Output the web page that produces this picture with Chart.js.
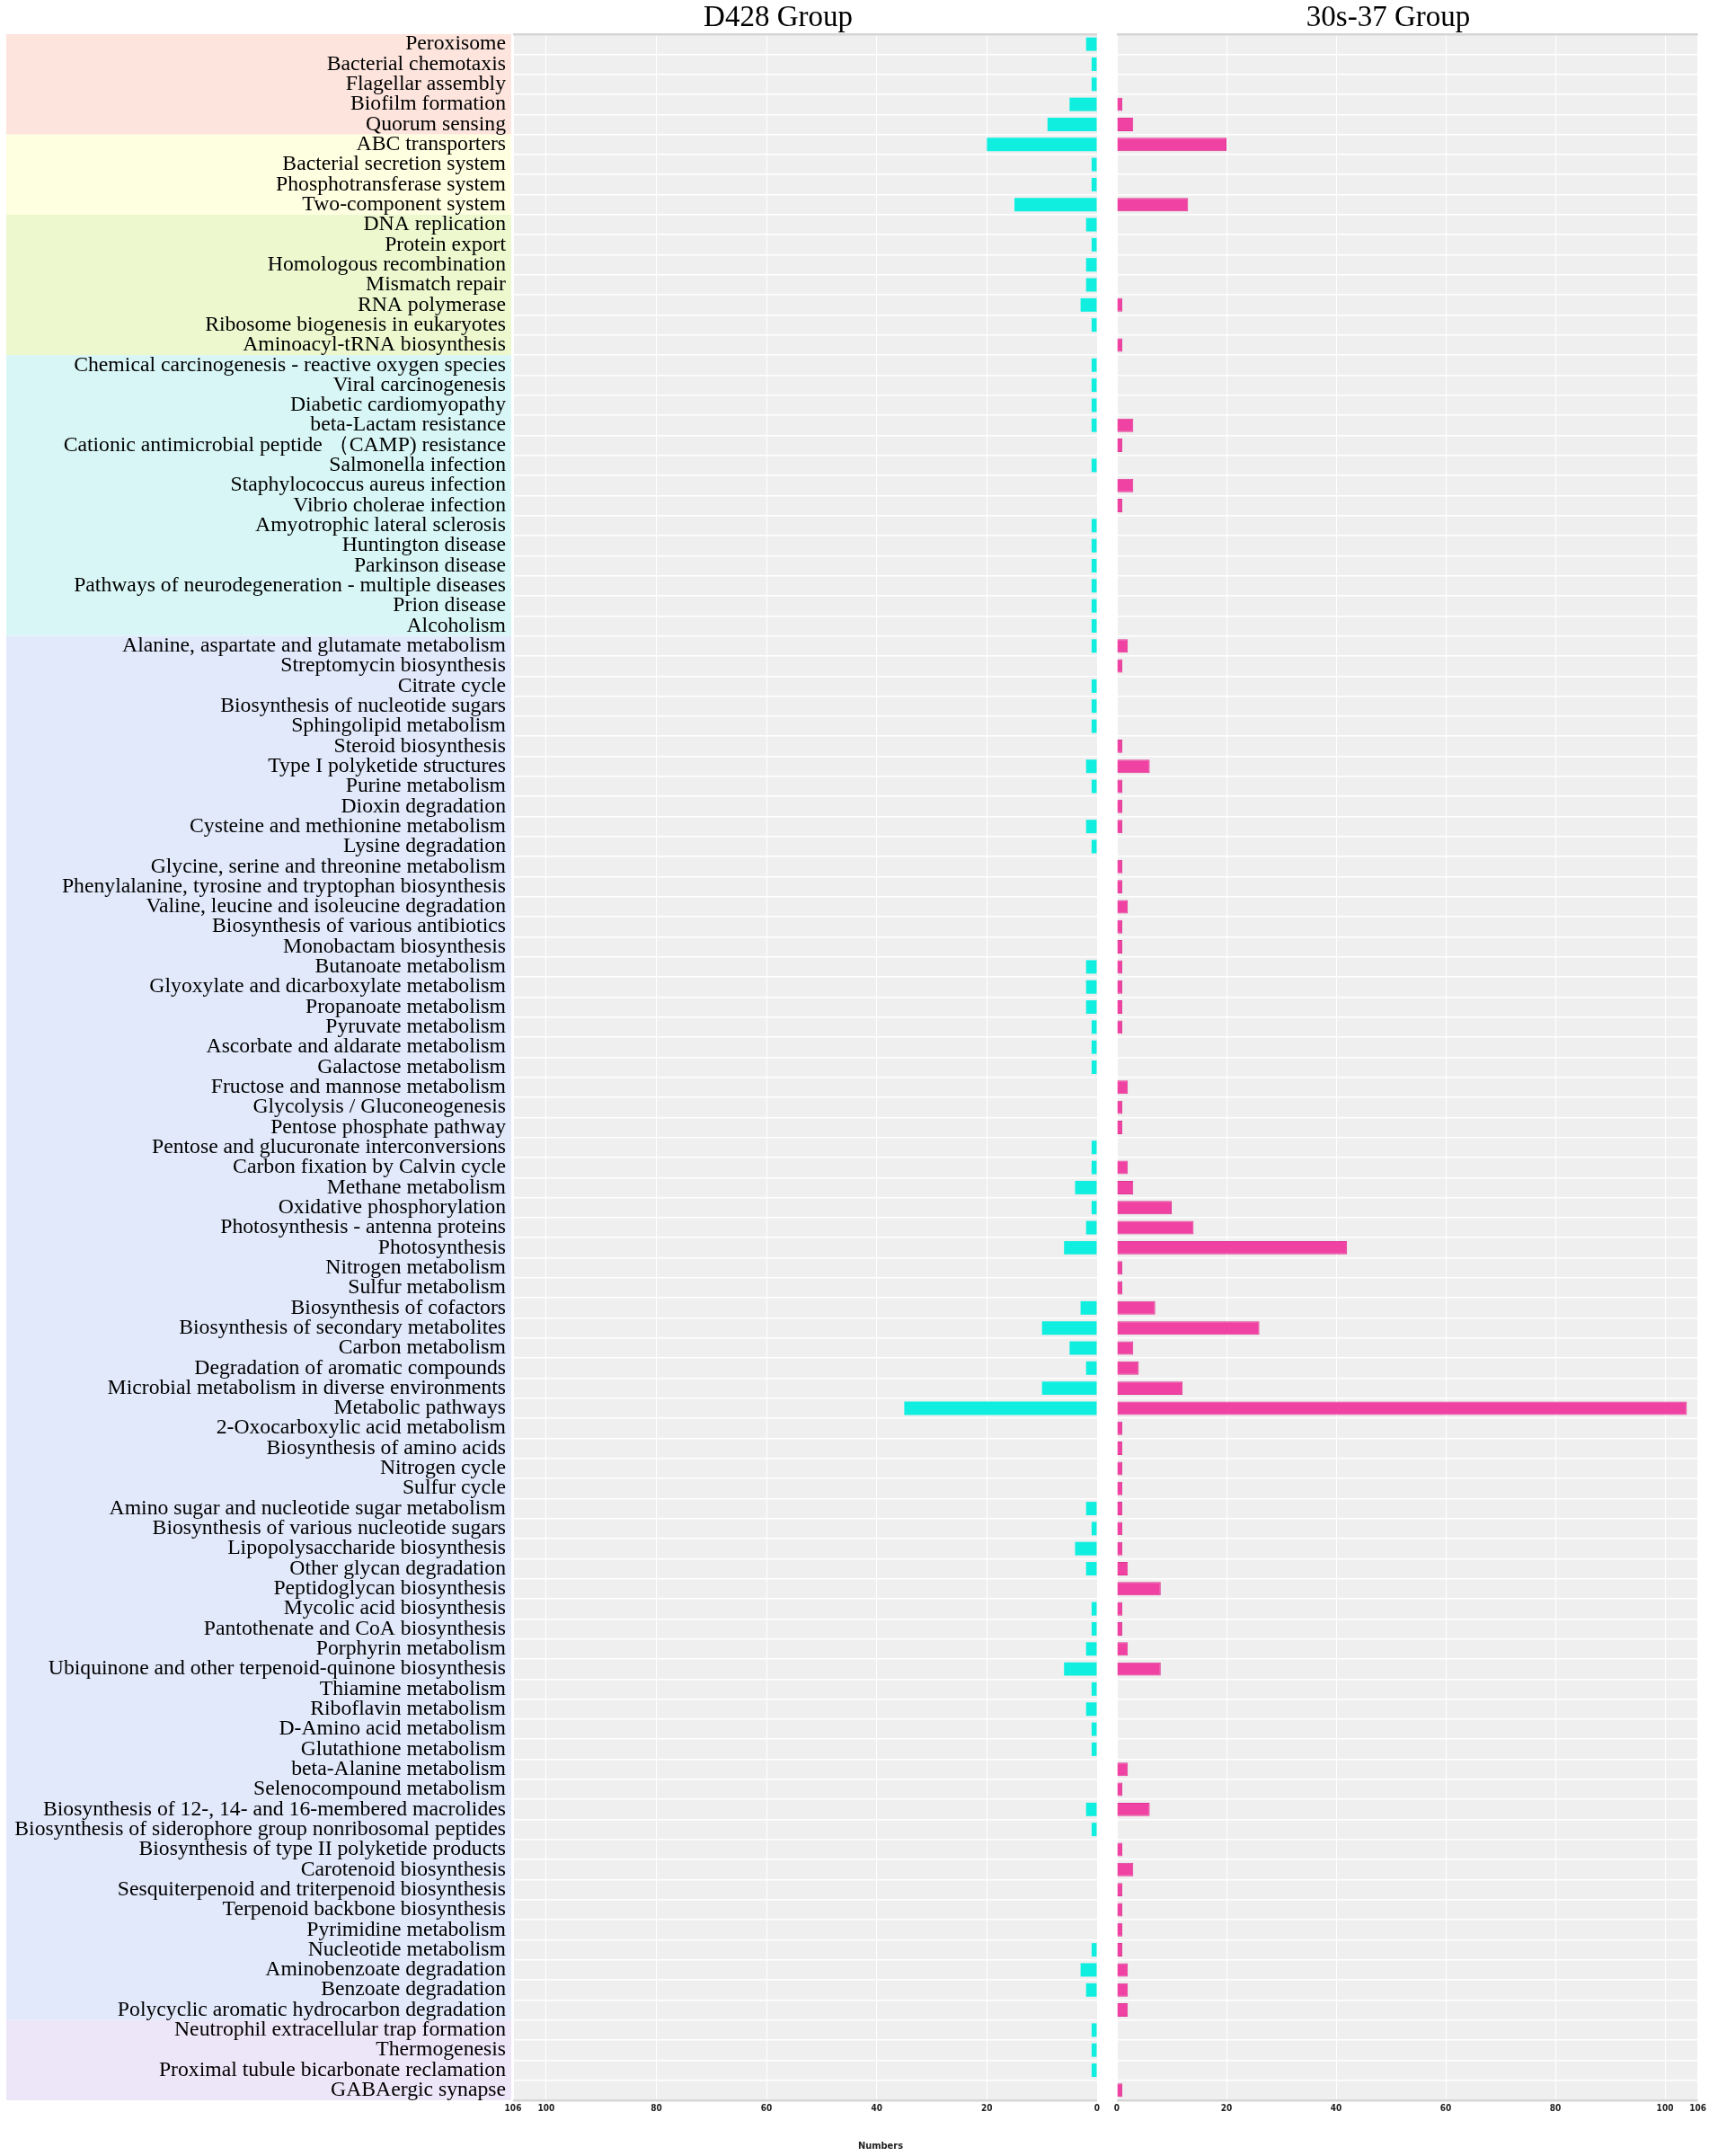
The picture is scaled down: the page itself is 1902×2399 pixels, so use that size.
<!DOCTYPE html>
<html>
<head>
<meta charset="utf-8">
<title>KEGG pathways</title>
<script src="https://cdn.jsdelivr.net/npm/chart.js@4.4.1/dist/chart.umd.min.js"></script>
<style>
  html, body { margin: 0; padding: 0; background: #fff; overflow: hidden; }
  #wrap { position: relative; width: 1902px; height: 2399px; }
  #leftChart { position: absolute; left: 0; top: 0; }
  #rightChart { position: absolute; left: 1188px; top: 0; z-index: 2; }
  #xTitle {
    position: absolute; top: 2381px; left: 880px; width: 200px; line-height: 14px;
    text-align: center; color: #222;
    font: bold 11px 'Liberation Sans Narrow', 'DejaVu Sans Condensed', 'Liberation Sans', sans-serif;
  }
</style>
</head>
<body>
<div id="wrap">
  <canvas id="leftChart" width="1732" height="2399"></canvas>
  <canvas id="rightChart" width="714" height="2399"></canvas>
  <div id="xTitle">Numbers</div>
</div>
<script>
// pathway names, top to bottom
const pathways = [
  'Peroxisome', 'Bacterial chemotaxis', 'Flagellar assembly', 'Biofilm formation', 'Quorum sensing',
  'ABC transporters', 'Bacterial secretion system', 'Phosphotransferase system', 'Two-component system',
  'DNA replication', 'Protein export', 'Homologous recombination', 'Mismatch repair', 'RNA polymerase',
  'Ribosome biogenesis in eukaryotes', 'Aminoacyl-tRNA biosynthesis',
  'Chemical carcinogenesis - reactive oxygen species', 'Viral carcinogenesis', 'Diabetic cardiomyopathy',
  'beta-Lactam resistance', 'Cationic antimicrobial peptide （CAMP) resistance', 'Salmonella infection',
  'Staphylococcus aureus infection', 'Vibrio cholerae infection', 'Amyotrophic lateral sclerosis',
  'Huntington disease', 'Parkinson disease', 'Pathways of neurodegeneration - multiple diseases',
  'Prion disease', 'Alcoholism',
  'Alanine, aspartate and glutamate metabolism', 'Streptomycin biosynthesis', 'Citrate cycle',
  'Biosynthesis of nucleotide sugars', 'Sphingolipid metabolism', 'Steroid biosynthesis',
  'Type I polyketide structures', 'Purine metabolism', 'Dioxin degradation',
  'Cysteine and methionine metabolism', 'Lysine degradation', 'Glycine, serine and threonine metabolism',
  'Phenylalanine, tyrosine and tryptophan biosynthesis', 'Valine, leucine and isoleucine degradation',
  'Biosynthesis of various antibiotics', 'Monobactam biosynthesis', 'Butanoate metabolism',
  'Glyoxylate and dicarboxylate metabolism', 'Propanoate metabolism', 'Pyruvate metabolism',
  'Ascorbate and aldarate metabolism', 'Galactose metabolism', 'Fructose and mannose metabolism',
  'Glycolysis / Gluconeogenesis', 'Pentose phosphate pathway', 'Pentose and glucuronate interconversions',
  'Carbon fixation by Calvin cycle', 'Methane metabolism', 'Oxidative phosphorylation',
  'Photosynthesis - antenna proteins', 'Photosynthesis', 'Nitrogen metabolism', 'Sulfur metabolism',
  'Biosynthesis of cofactors', 'Biosynthesis of secondary metabolites', 'Carbon metabolism',
  'Degradation of aromatic compounds', 'Microbial metabolism in diverse environments', 'Metabolic pathways',
  '2-Oxocarboxylic acid metabolism', 'Biosynthesis of amino acids', 'Nitrogen cycle', 'Sulfur cycle',
  'Amino sugar and nucleotide sugar metabolism', 'Biosynthesis of various nucleotide sugars',
  'Lipopolysaccharide biosynthesis', 'Other glycan degradation', 'Peptidoglycan biosynthesis',
  'Mycolic acid biosynthesis', 'Pantothenate and CoA biosynthesis', 'Porphyrin metabolism',
  'Ubiquinone and other terpenoid-quinone biosynthesis', 'Thiamine metabolism', 'Riboflavin metabolism',
  'D-Amino acid metabolism', 'Glutathione metabolism', 'beta-Alanine metabolism', 'Selenocompound metabolism',
  'Biosynthesis of 12-, 14- and 16-membered macrolides',
  'Biosynthesis of siderophore group nonribosomal peptides', 'Biosynthesis of type II polyketide products',
  'Carotenoid biosynthesis', 'Sesquiterpenoid and triterpenoid biosynthesis',
  'Terpenoid backbone biosynthesis', 'Pyrimidine metabolism', 'Nucleotide metabolism',
  'Aminobenzoate degradation', 'Benzoate degradation', 'Polycyclic aromatic hydrocarbon degradation',
  'Neutrophil extracellular trap formation', 'Thermogenesis', 'Proximal tubule bicarbonate reclamation',
  'GABAergic synapse'
];

// gene counts per pathway (0 = no bar)
const d428Counts = [
  2, 1, 1, 5, 9,
  20, 1, 1, 15,
  2, 1, 2, 2, 3, 1, 0,
  1, 1, 1, 1, 0, 1, 0, 0, 1, 1, 1, 1, 1, 1,
  1, 0, 1, 1, 1, 0, 2, 1, 0, 2,
  1, 0, 0, 0, 0, 0, 2, 2, 2, 1,
  1, 1, 0, 0, 0, 1, 1, 4, 1, 2,
  6, 0, 0, 3, 10, 5, 2, 10, 35, 0,
  0, 0, 0, 2, 1, 4, 2, 0, 1, 1,
  2, 6, 1, 2, 1, 1, 0, 0, 2, 1,
  0, 0, 0, 0, 0, 1, 3, 2, 0,
  1, 1, 1, 0
];
const s37Counts = [
  0, 0, 0, 1, 3,
  20, 0, 0, 13,
  0, 0, 0, 0, 1, 0, 1,
  0, 0, 0, 3, 1, 0, 3, 1, 0, 0, 0, 0, 0, 0,
  2, 1, 0, 0, 0, 1, 6, 1, 1, 1,
  0, 1, 1, 2, 1, 1, 1, 1, 1, 1,
  0, 0, 2, 1, 1, 0, 2, 3, 10, 14,
  42, 1, 1, 7, 26, 3, 4, 12, 104, 1,
  1, 1, 1, 1, 1, 1, 2, 8, 1, 1,
  2, 8, 0, 0, 0, 0, 2, 1, 6, 0,
  1, 3, 1, 1, 1, 1, 2, 2, 2,
  0, 0, 0, 1
];

// KEGG level-1 groups: number of rows in each, in order
const groupNames = ['Cellular Processes', 'Environmental Information Processing',
  'Genetic Information Processing', 'Human Diseases', 'Metabolism', 'Organismal Systems'];
const groupSizes = [5, 4, 7, 14, 69, 4];
const groupColors = ['#fde4dc', '#fefee0', '#eef8cf', '#d9f6f6', '#e1e9fb', '#ede6f8'];

const xTickValues = [0, 20, 40, 60, 80, 100, 106];
const xMax = 106;

const serif = "'Liberation Serif', 'Times New Roman', serif";
const tickFont = { family: "'Liberation Sans Narrow', 'DejaVu Sans Condensed', 'Liberation Sans', sans-serif", size: 10, weight: 'bold' };

// grey panel behind the bars
const panelBackground = {
  id: 'panelBackground',
  beforeDraw(chart) {
    const { ctx, chartArea: a } = chart;
    ctx.save();
    ctx.fillStyle = '#efefef';
    ctx.fillRect(a.left, a.top, a.right - a.left, a.bottom - a.top);
    ctx.restore();
  }
};

// coloured strips behind the pathway names
const groupBands = {
  id: 'groupBands',
  beforeDraw(chart) {
    const { ctx, chartArea } = chart;
    const y = chart.scales.y;
    const half = (y.getPixelForValue(1) - y.getPixelForValue(0)) / 2;
    let start = 0;
    ctx.save();
    groupSizes.forEach((n, i) => {
      const top = y.getPixelForValue(start) - half;
      const bottom = y.getPixelForValue(start + n - 1) + half;
      ctx.fillStyle = groupColors[i];
      ctx.fillRect(7, top, chartArea.left - 9, bottom - top);
      start += n;
    });
    ctx.restore();
  }
};

function isEdge(c) {
  return !(c.type === 'tick' && c.index > 0);
}

function yAxis(showLabels, width) {
  return {
    type: 'category',
    position: 'left',
    grid: {
      offset: true,
      drawTicks: false,
      color: c => isEdge(c) ? '#d6d6d6' : '#ffffff',
      lineWidth: c => isEdge(c) ? 2.5 : 1.5
    },
    border: { display: false },
    ticks: {
      display: showLabels,
      autoSkip: false,
      padding: 8,
      color: '#000',
      font: { family: serif, size: 23.7 }
    },
    afterFit: s => { s.width = width; }
  };
}

function spacer(width) {
  return {
    type: 'category',
    position: 'right',
    grid: { display: false },
    border: { display: false },
    ticks: { display: false },
    afterFit: s => { s.width = width; }
  };
}

function xAxis(reverse) {
  return {
    type: 'linear',
    reverse: reverse,
    min: 0,
    max: xMax,
    afterBuildTicks: s => { s.ticks = xTickValues.map(v => ({ value: v })); },
    grid: { color: '#ffffff', lineWidth: 1, drawTicks: false },
    border: { display: false },
    ticks: { padding: 3, maxRotation: 0, autoSkip: false, color: '#222', font: tickFont }
  };
}

function titleOpts(text) {
  return {
    display: true,
    text: text,
    color: '#000',
    font: { family: serif, size: 33, weight: 'normal', lineHeight: 1 },
    padding: { top: 4, bottom: 1 }
  };
}

function barSet(label, values, fill, border) {
  return {
    label: label,
    data: values.map(v => v || null),
    backgroundColor: fill,
    borderColor: border,
    borderWidth: border ? 1 : 0,
    barPercentage: 0.67,
    categoryPercentage: 1
  };
}

const common = {
  indexAxis: 'y',
  responsive: false,
  animation: false,
  layout: { padding: { top: 0, left: 0, right: 0, bottom: 44 } },
  plugins: { legend: { display: false }, tooltip: { enabled: false } }
};

new Chart(document.getElementById('leftChart'), {
  type: 'bar',
  data: { labels: pathways, datasets: [barSet('D428 Group', d428Counts, '#10efdf', null)] },
  options: {
    ...common,
    plugins: { ...common.plugins, title: titleOpts('D428 Group') },
    scales: { x: xAxis(true), y: yAxis(true, 571), yPad: spacer(511) }
  },
  plugins: [groupBands, panelBackground]
});

new Chart(document.getElementById('rightChart'), {
  type: 'bar',
  data: { labels: pathways, datasets: [barSet('30s-37 Group', s37Counts, '#f042a2', '#e03594')] },
  options: {
    ...common,
    plugins: { ...common.plugins, title: titleOpts('30s-37 Group') },
    scales: { x: xAxis(false), y: yAxis(false, 55), yPad: spacer(10) }
  },
  plugins: [panelBackground]
});
</script>
</body>
</html>
